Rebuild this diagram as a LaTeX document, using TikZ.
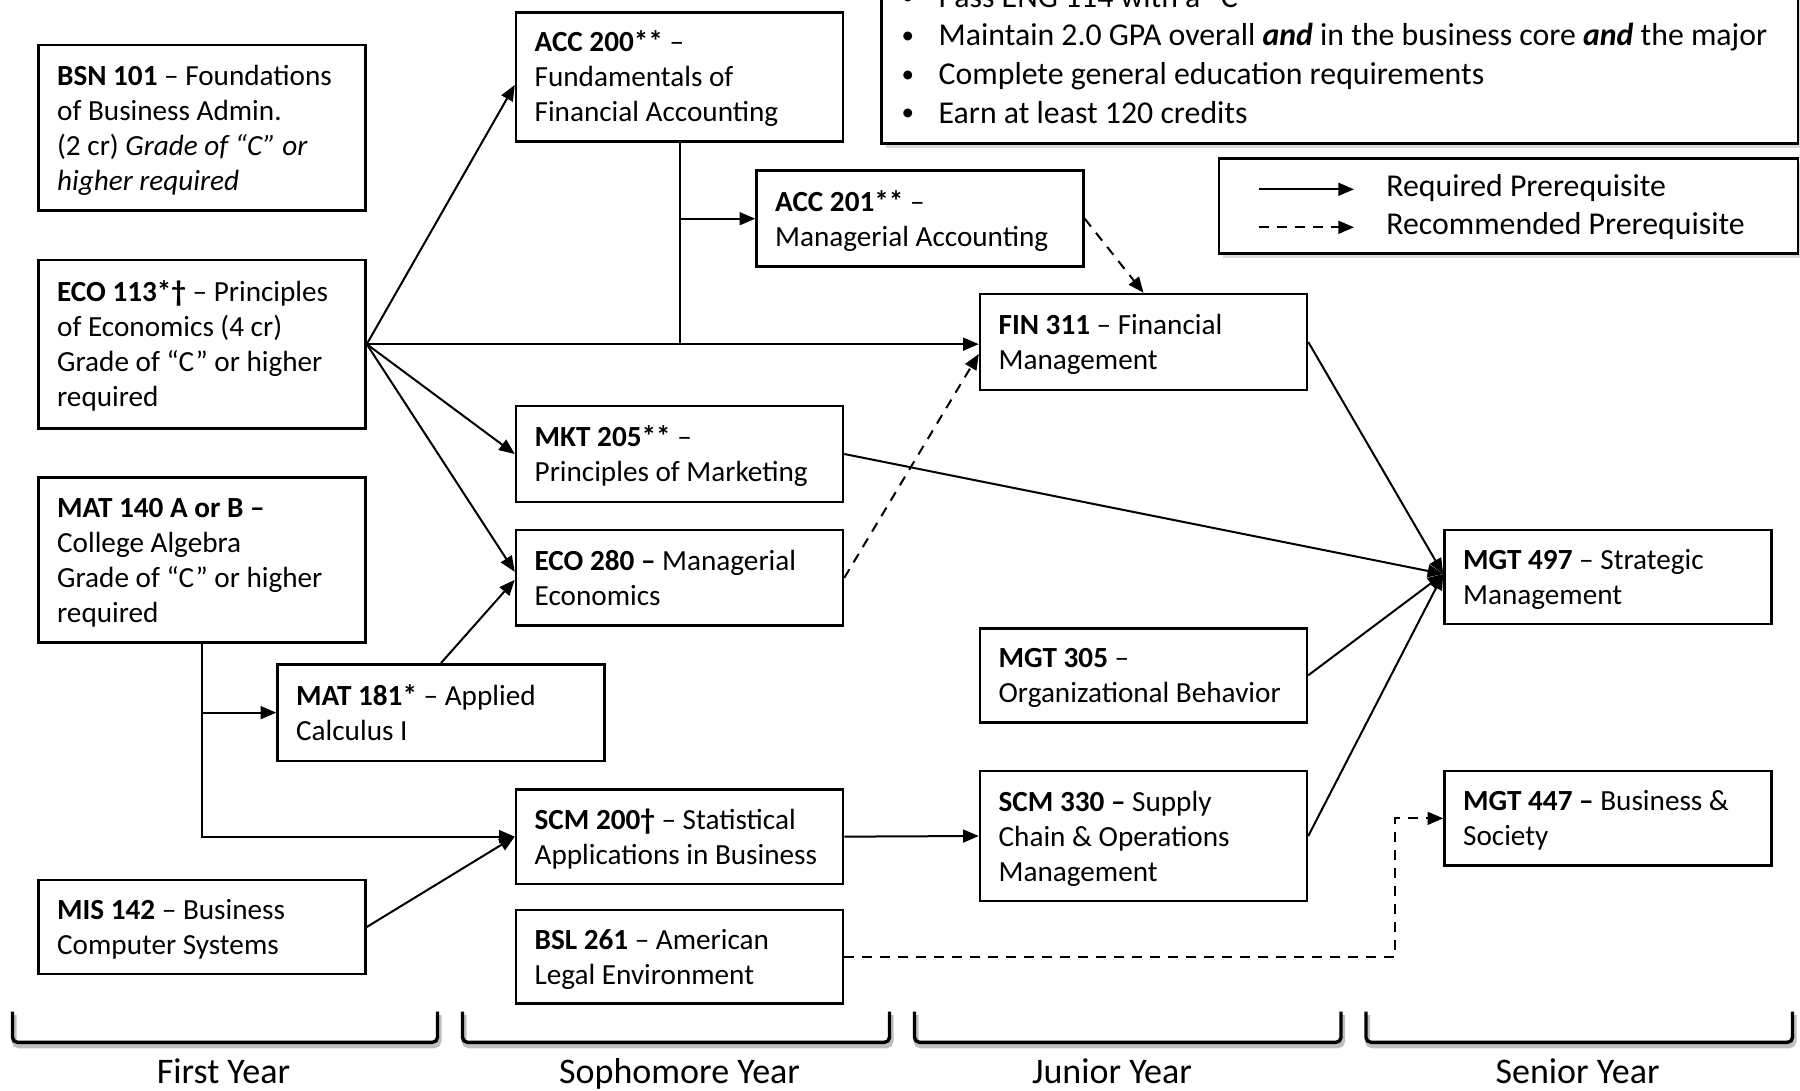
\documentclass[tikz,border=0pt]{standalone}
\usepackage{fontspec}
\setmainfont{Carlito}
\usetikzlibrary{arrows.meta,calc,fit,shadows}
\newcommand\bs{\rule[-3.75pt]{0pt}{17.5pt}}
\newcommand\blt{\makebox[19.15pt][l]{\hspace{0.6pt}\raisebox{1.2pt}{\fontsize{12.5pt}{12.5pt}\selectfont •}}}
\begin{document}
\begin{tikzpicture}[x=0.5pt,y=-0.5pt,
  box/.style={draw, line width=1.25pt, inner sep=0pt, rectangle, fill=white},
  txt/.style={inner xsep=9.75pt, inner ysep=0pt, align=left, anchor=west, font=\fontsize{14.6pt}{17.5pt}\selectfont},
  req/.style={line width=1pt, -{Triangle[length=7.8pt,width=6.4pt]}},
  rec/.style={req, dash pattern=on 5pt off 4pt},
  plainline/.style={line width=1pt},
  bracket/.style={line width=1.7pt, rounded corners=2.5pt},
  bracketshadow/.style={line width=2.6pt, rounded corners=2.5pt, black!25},
  yearlbl/.style={anchor=base, inner sep=0pt, font=\fontsize{18pt}{21pt}\selectfont},
  big/.style={anchor=base west, inner sep=0pt, font=\fontsize{15.9pt}{19.35pt}\selectfont},
  shadowed/.style={drop shadow={shadow xshift=2pt, shadow yshift=-2.5pt, opacity=0.3}}
]
\useasboundingbox (0,0) rectangle (1800,1091);
\clip (0,0) rectangle (1800,1091);

% ---------- graduation requirements box ----------
\node[box, shadowed, fit={(881.7,-80) (1798,143.3)}] (gradreq) {};
\node[big] (r1) at (900,7.3) {\blt Pass ENG 114 with a “C”};
\node[big] (r2) at (900,46) {\blt Maintain 2.0 GPA overall \textbf{\textit{and}} in the business core \textbf{\textit{and}} the major};
\node[big] (r3) at (900,84.7) {\blt Complete general education requirements};
\node[big] (r4) at (900,123.4) {\blt Earn at least 120 credits};

% ---------- legend ----------
\node[box, shadowed, fit={(1219,158.3) (1798,253.3)}] (legend) {};
\coordinate (l1a) at (1259.3,189.3);
\coordinate (l1b) at (1354,189.3);
\coordinate (l2a) at (1259.3,227.3);
\coordinate (l2b) at (1354,227.3);
\draw[req] (l1a) -- (l1b);
\draw[rec] (l2a) -- (l2b);
\node[big] (lreq) at (1386,196.7) {Required Prerequisite};
\node[big] (lrec) at (1386,235) {Recommended Prerequisite};

% ---------- first year ----------
\node[box, fit={(38.5,45) (365.5,210.7)}] (bsn) {};
\node[txt] (bsnT) at (bsn.west) {\bs\textbf{BSN 101} – Foundations\\ of Business Admin.\\ (2 cr) \textit{Grade of “C” or}\\ \textit{higher required}\bs};

\node[box, fit={(38.5,260) (365.5,428.3)}] (eco113) {};
\node[txt] (eco113T) at (eco113.west) {\bs\textbf{ECO 113*†} – Principles\\ of Economics (4 cr)\\ Grade of “C” or higher\\ required\bs};

\node[box, fit={(38.5,477.7) (365.5,642.7)}] (mat140) {};
\node[txt] (mat140T) at (mat140.west) {\bs\textbf{MAT 140 A or B –}\\ College Algebra\\ Grade of “C” or higher\\ required\bs};

\node[box, fit={(38.5,880) (365.5,974)}] (mis) {};
\node[txt] (misT) at (mis.west) {\bs\textbf{MIS 142} – Business\\ Computer Systems\bs};

\node[box, fit={(277.5,664.3) (604.5,761)}] (mat181) {};
\node[txt] (mat181T) at (mat181.west) {\bs\textbf{MAT 181*} – Applied\\ Calculus I\bs};

% ---------- sophomore year ----------
\node[box, fit={(516,12.3) (843,141.7)}] (acc200) {};
\node[txt] (acc200T) at (acc200.west) {\bs\textbf{ACC 200**} –\\ Fundamentals of\\ Financial Accounting\bs};

\node[box, fit={(756.5,170.7) (1083.5,266.7)}] (acc201) {};
\node[txt] (acc201T) at (acc201.west) {\bs\textbf{ACC 201**} –\\ Managerial Accounting\bs};

\node[box, fit={(516,406) (843,502)}] (mkt) {};
\node[txt] (mktT) at (mkt.west) {\bs\textbf{MKT 205**} –\\ Principles of Marketing\bs};

\node[box, fit={(516,530) (843,625.7)}] (eco280) {};
\node[txt] (eco280T) at (eco280.west) {\bs\textbf{ECO 280 –} Managerial\\ Economics\bs};

\node[box, fit={(516,789.3) (843,884)}] (scm200) {};
\node[txt] (scm200T) at (scm200.west) {\bs\textbf{SCM 200†} – Statistical\\ Applications in Business\bs};

\node[box, fit={(516,910) (843,1003.3)}] (bsl) {};
\node[txt] (bslT) at (bsl.west) {\bs\textbf{BSL 261} – American\\ Legal Environment\bs};

% ---------- junior year ----------
\node[box, fit={(980,294) (1307,390)}] (fin) {};
\node[txt] (finT) at (fin.west) {\bs\textbf{FIN 311} – Financial\\ Management\bs};

\node[box, fit={(980,628.3) (1307,722.3)}] (mgt305) {};
\node[txt] (mgt305T) at (mgt305.west) {\bs\textbf{MGT 305} –\\ Organizational Behavior\bs};

\node[box, fit={(980,771) (1307,901)}] (scm330) {};
\node[txt] (scm330T) at (scm330.west) {\bs\textbf{SCM 330 –} Supply\\ Chain \& Operations\\ Management\bs};

% ---------- senior year ----------
\node[box, fit={(1444.5,530) (1771.5,624)}] (mgt497) {};
\node[txt] (mgt497T) at (mgt497.west) {\bs\textbf{MGT 497} – Strategic\\ Management\bs};

\node[box, fit={(1444.5,771) (1771.5,865.7)}] (mgt447) {};
\node[txt] (mgt447T) at (mgt447.west) {\bs\textbf{MGT 447 –} Business \&\\ Society\bs};

% ---------- connectors ----------
\coordinate (m497in) at ($(mgt497.west)+(0,-3)$);
\draw[req] (eco113.east) -- ($(acc200.west)+(0,8)$);
\draw[req] (eco113.east) -- (eco113.east -| fin.west);
\draw[req] (eco113.east) -- (mkt.west);
\draw[req] (eco113.east) -- ($(eco280.west)+(0,-6)$);
\draw[req] (mat181.north) -- ($(eco280.west)+(0,2)$);
\draw[plainline] (acc200.south) -- (acc200.south |- eco113.east);
\draw[req] (acc200.south |- acc201.west) -- (acc201.west);
\draw[rec] (acc201.east) -- (fin.north);
\draw[rec] (eco280.east) -- ($(fin.west)+(0,12)$);
\draw[req] (mkt.east) -- (m497in);
\draw[req] (fin.east) -- (m497in);
\draw[req] (mgt305.east) -- (m497in);
\draw[req] (scm330.east) -- (m497in);
\draw[req] (mat140.south) |- (scm200.west);
\draw[req] (mat140.south |- mat181.west) -- (mat181.west);
\draw[req] (mis.east) -- (scm200.west);
\draw[req] (scm200.east) -- (scm330.west);
\coordinate (bend) at ($(mgt447.west)+(-48,0)$);
\draw[rec] (bsl.east) -| (bend) -- (mgt447.west);

% ---------- year brackets ----------
\foreach \a/\b in {12.5/437.5, 462.5/889.5, 914.5/1341, 1366/1792.5} {
  \draw[bracketshadow, shift={(1.5,3.5)}] (\a,1011.7) -- (\a,1042.3) -- (\b,1042.3) -- (\b,1011.7);
  \draw[bracket] (\a,1011.7) -- (\a,1042.3) -- (\b,1042.3) -- (\b,1011.7);
}
\node[yearlbl] (y1) at (223.5,1083.5) {First Year};
\node[yearlbl] (y2) at (679.6,1083.5) {Sophomore Year};
\node[yearlbl] (y3) at (1112,1083.5) {Junior Year};
\node[yearlbl] (y4) at (1577.6,1083.5) {Senior Year};
\end{tikzpicture}
\end{document}
